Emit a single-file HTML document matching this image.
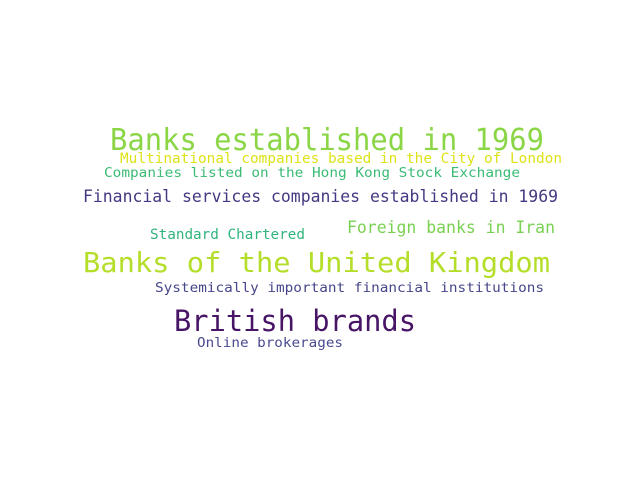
<!DOCTYPE html>
<html><head><meta charset="utf-8"><style>
html,body{margin:0;padding:0;background:#fff;}
svg{display:block;}
text{font-family:"DejaVu Sans Mono","Liberation Mono",monospace;}
</style></head><body>
<svg width="640" height="480" viewBox="0 0 640 480">
<rect width="640" height="480" fill="#fff"/>
<text x="110" y="150" font-size="30" fill="#8bd646" textLength="434" lengthAdjust="spacingAndGlyphs">Banks established in 1969</text>
<text x="120" y="163" font-size="14" fill="#dde318" textLength="442" lengthAdjust="spacingAndGlyphs">Multinational companies based in the City of London</text>
<text x="104" y="177" font-size="13" fill="#3bbb75" textLength="416" lengthAdjust="spacingAndGlyphs">Companies listed on the Hong Kong Stock Exchange</text>
<text x="83" y="202" font-size="17" fill="#453781" textLength="475" lengthAdjust="spacingAndGlyphs">Financial services companies established in 1969</text>
<text x="347" y="233" font-size="17" fill="#7ad151" textLength="208" lengthAdjust="spacingAndGlyphs">Foreign banks in Iran</text>
<text x="150" y="239" font-size="14" fill="#2fb47c" textLength="155" lengthAdjust="spacingAndGlyphs">Standard Chartered</text>
<text x="83" y="272" font-size="28" fill="#b5de2b" textLength="467" lengthAdjust="spacingAndGlyphs">Banks of the United Kingdom</text>
<text x="155" y="292" font-size="13" fill="#46468a" textLength="389" lengthAdjust="spacingAndGlyphs">Systemically important financial institutions</text>
<text x="174" y="331" font-size="29" fill="#481466" textLength="242" lengthAdjust="spacingAndGlyphs">British brands</text>
<text x="197" y="347" font-size="13" fill="#4a4a90" textLength="146" lengthAdjust="spacingAndGlyphs">Online brokerages</text>
</svg>
</body></html>
